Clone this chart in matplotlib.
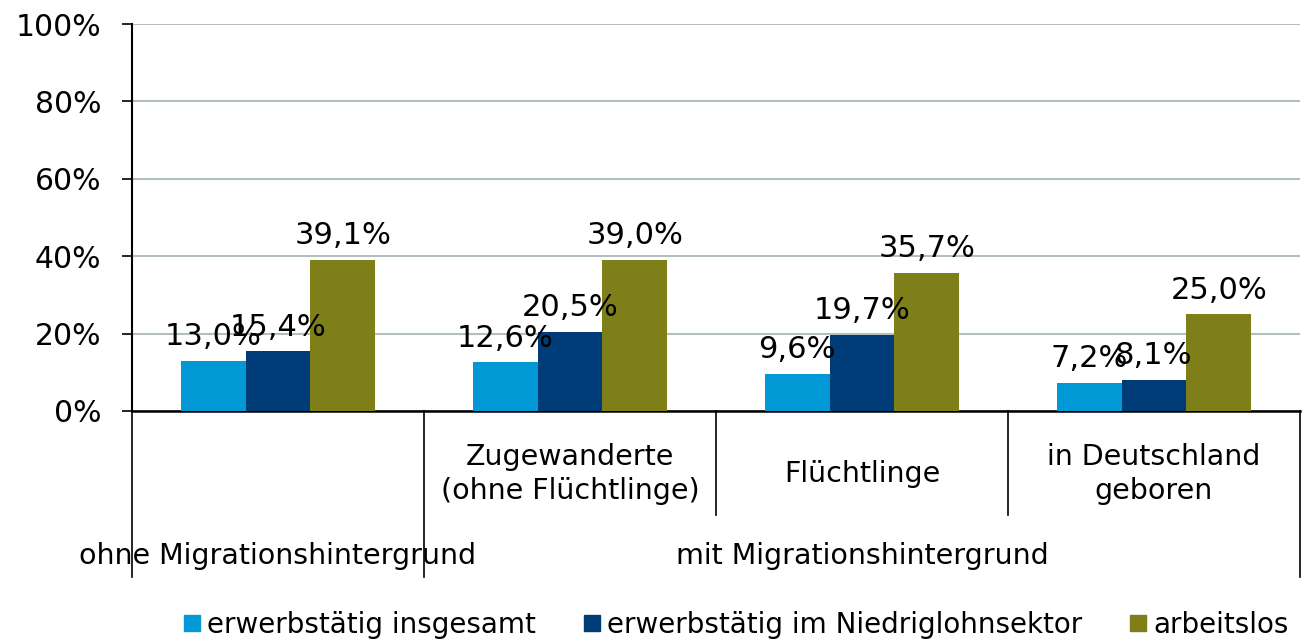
import numpy as np
import matplotlib
matplotlib.use('Agg')
import matplotlib.pyplot as plt
from matplotlib.lines import Line2D
import matplotlib.transforms as mtransforms

# Daten
kategorien = ['', 'Zugewanderte\n(ohne Flüchtlinge)', 'Flüchtlinge', 'in Deutschland\ngeboren']
gruppen = ['ohne Migrationshintergrund', 'mit Migrationshintergrund']
serien = ['erwerbstätig insgesamt', 'erwerbstätig im Niedriglohnsektor', 'arbeitslos']
insgesamt = [13.0, 12.6, 9.6, 7.2]
niedriglohn = [15.4, 20.5, 19.7, 8.1]
arbeitslos = [39.1, 39.0, 35.7, 25.0]
farben = ['#0099D6', '#003D78', '#7F7F1A']

W, H = 1312, 641
fig = plt.figure(figsize=(W / 100, H / 100), dpi=100)
ax = fig.add_axes([132 / W, 1 - 411 / H, (1300 - 132) / W, (411 - 24) / H])

x = np.arange(len(kategorien))
breite = 0.222
werte = [insgesamt, niedriglohn, arbeitslos]
for i, (vals, farbe) in enumerate(zip(werte, farben)):
    pos = x + (i - 1) * breite
    ax.bar(pos, vals, width=breite, color=farbe, zorder=3)
    for px, v in zip(pos, vals):
        ax.annotate(f'{v:.1f}%'.replace('.', ','), (px, v), xytext=(0, 7),
                    textcoords='offset points', ha='center', va='bottom',
                    fontsize=22, zorder=4)

ax.set_xlim(-0.5, 3.5)
ax.set_ylim(0, 100)
ax.set_yticks(range(0, 101, 20))
ax.set_yticklabels([f'{t}%' for t in range(0, 101, 20)], fontsize=21.5)
ax.tick_params(axis='y', length=7, width=1.2, pad=15)
ax.set_xticks([])
ax.grid(axis='y', color='#B3BFBF', linewidth=1.5, zorder=0)
for s in ['top', 'right']:
    ax.spines[s].set_visible(False)
ax.spines['left'].set_linewidth(1.5)
ax.spines['bottom'].set_linewidth(1.8)

# Mehrstufige Kategorieachse
trans = mtransforms.blended_transform_factory(ax.transData, ax.transAxes)
voll = -(577 - 411) / 387
innen = -(515 - 411) / 387
for gx in [-0.5, 0.5, 3.5]:
    ax.plot([gx, gx], [0, voll], color='black', lw=1.2, transform=trans, clip_on=False)
for gx in [1.5, 2.5]:
    ax.plot([gx, gx], [0, innen], color='black', lw=1.2, transform=trans, clip_on=False)

for xi, lab in zip(x, kategorien):
    ax.text(xi, -(474 - 411) / 387, lab, transform=trans, ha='center', va='center',
            fontsize=20.5, linespacing=1.3)

ax.text(0, -(556 - 411) / 387, gruppen[0], transform=trans, ha='center', va='center', fontsize=20.5)
ax.text(2, -(556 - 411) / 387, gruppen[1], transform=trans, ha='center', va='center', fontsize=20.5)

handles = [Line2D([], [], marker='s', linestyle='none', markersize=11, color=f) for f in farben]
fig.legend(handles, serien, loc='center', bbox_to_anchor=(0.56, 1 - 625 / H), ncol=3,
           frameon=False, fontsize=20, handletextpad=0.15, columnspacing=1.6,
           handlelength=0.8, borderpad=0)

fig.savefig('out.png', dpi=100)
